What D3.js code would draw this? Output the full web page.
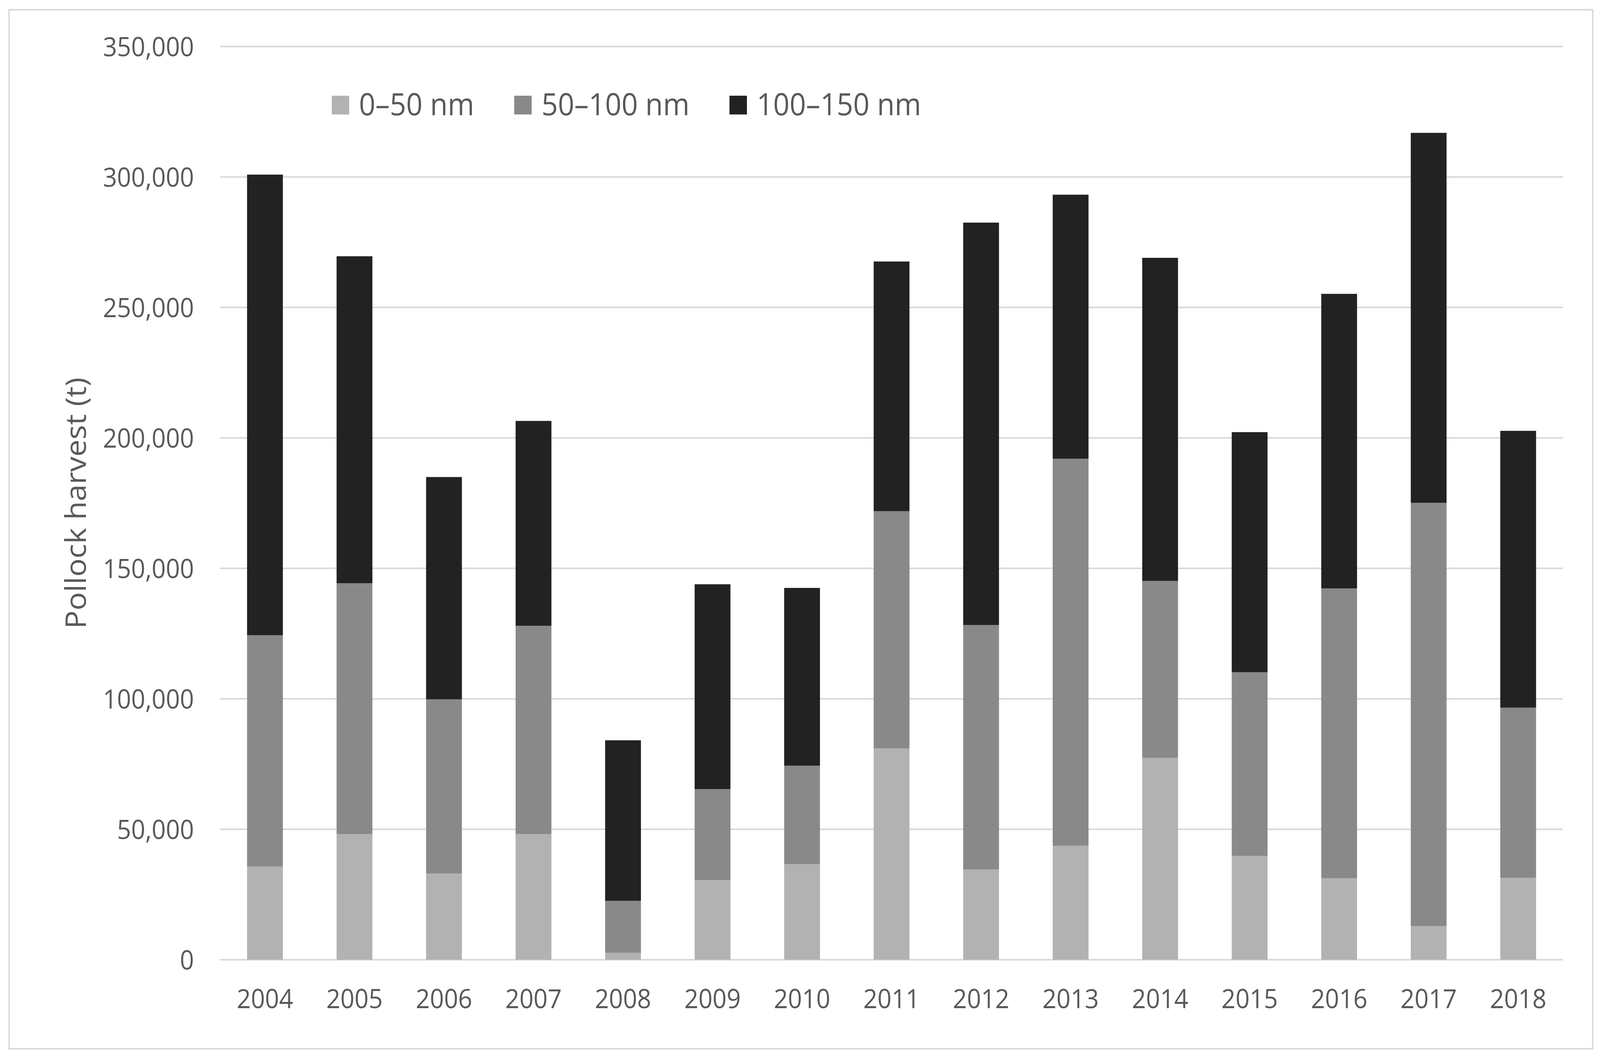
<!DOCTYPE html>
<html>
<head>
<meta charset="utf-8">
<script src="https://cdn.jsdelivr.net/npm/d3@7"></script>
<style>
  html, body { margin: 0; padding: 0; background: #ffffff; overflow: hidden; }
  svg { display: block; }
  text { font-family: "Open Sans", "Noto Sans", sans-serif; fill: #595959; }
</style>
</head>
<body>
<svg id="chart"></svg>
<script>
const years = ["2004","2005","2006","2007","2008","2009","2010","2011","2012","2013","2014","2015","2016","2017","2018"];
const seriesNames = ["0–50 nm", "50–100 nm", "100–150 nm"];
const near = [35700, 48200, 33000, 48200, 2700, 30500, 36600, 81000, 34600, 43700, 77400, 39800, 31200, 12900, 31400];
const mid  = [88700, 96100, 66800, 79800, 19900, 34900, 37800, 90900, 93700, 148300, 67800, 70400, 111100, 162200, 65200];
const far  = [176500, 125300, 85200, 78500, 61500, 78500, 68100, 95700, 154200, 101200, 123800, 92000, 112900, 141800, 106100];
const yTicks = [0, 50000, 100000, 150000, 200000, 250000, 300000, 350000];
const colors = ["#b2b2b2", "#898989", "#222222"];

(function () {
const W = 4403, H = 2706;
const plotL = 606, plotR = 4301, plotT = 119, plotB = 2457;

const svg = d3.select("#chart")
  .attr("width", window.innerWidth || W)
  .attr("height", window.innerHeight || H)
  .attr("viewBox", `0 0 ${W} ${H}`)
  .attr("preserveAspectRatio", "none");

svg.append("rect")
  .attr("x", 25).attr("y", 25)
  .attr("width", 4383 - 25).attr("height", 2685 - 25)
  .attr("fill", "#ffffff").attr("stroke", "#d9d9d9").attr("stroke-width", 4);

const x = d3.scaleBand().domain(years).range([plotL, plotR]).paddingInner(0.6).paddingOuter(0.3);
const y = d3.scaleLinear().domain([0, 350000]).range([plotB, plotT]);

svg.append("g").selectAll("line").data(yTicks).join("line")
  .attr("x1", plotL).attr("x2", plotR)
  .attr("y1", d => y(d)).attr("y2", d => y(d))
  .attr("stroke", "#d9d9d9").attr("stroke-width", 4);

const yAxis = d3.axisLeft(y).tickValues(yTicks).tickFormat(d3.format(",")).tickSize(0).tickPadding(0);
const gy = svg.append("g").attr("transform", `translate(534,0)`).call(yAxis);
gy.select(".domain").remove();
gy.selectAll("text")
  .attr("font-size", 68).attr("dy", null).attr("y", 24)
  .attr("font-family", '"Open Sans", "Noto Sans", sans-serif')
  .style("fill", "#595959");

const table = years.map((yr, i) => ({ year: yr, s0: near[i], s1: mid[i], s2: far[i] }));
const stacked = d3.stack().keys(["s0", "s1", "s2"])(table);

svg.append("g").selectAll("g").data(stacked).join("g")
  .attr("fill", (d, i) => colors[i])
  .selectAll("rect").data(d => d).join("rect")
  .attr("x", d => x(d.data.year))
  .attr("width", x.bandwidth())
  .attr("y", d => y(d[1]))
  .attr("height", d => y(d[0]) - y(d[1]));

const xAxis = d3.axisBottom(x).tickSize(0).tickPadding(0);
const gx = svg.append("g").attr("transform", `translate(0,${plotB})`).call(xAxis);
gx.select(".domain").remove();
gx.selectAll("text")
  .attr("font-size", 68).attr("dy", null).attr("y", 124)
  .attr("font-family", '"Open Sans", "Noto Sans", sans-serif')
  .style("fill", "#595959");

svg.append("text")
  .attr("transform", `translate(236,${(plotT + plotB) / 2}) rotate(-90)`)
  .attr("text-anchor", "middle")
  .attr("font-size", 78)
  .text("Pollock harvest (t)");

const leg = svg.append("g");
let lx = 913;
seriesNames.forEach((name, i) => {
  leg.append("rect").attr("x", lx).attr("y", 245).attr("width", 48).attr("height", 48).attr("fill", colors[i]);
  const t = leg.append("text").attr("x", lx + 75).attr("y", 295).attr("font-size", 79).text(name);
  const w = t.node().getComputedTextLength();
  lx = lx + 75 + w + 110;
});
})();
</script>
</body>
</html>
